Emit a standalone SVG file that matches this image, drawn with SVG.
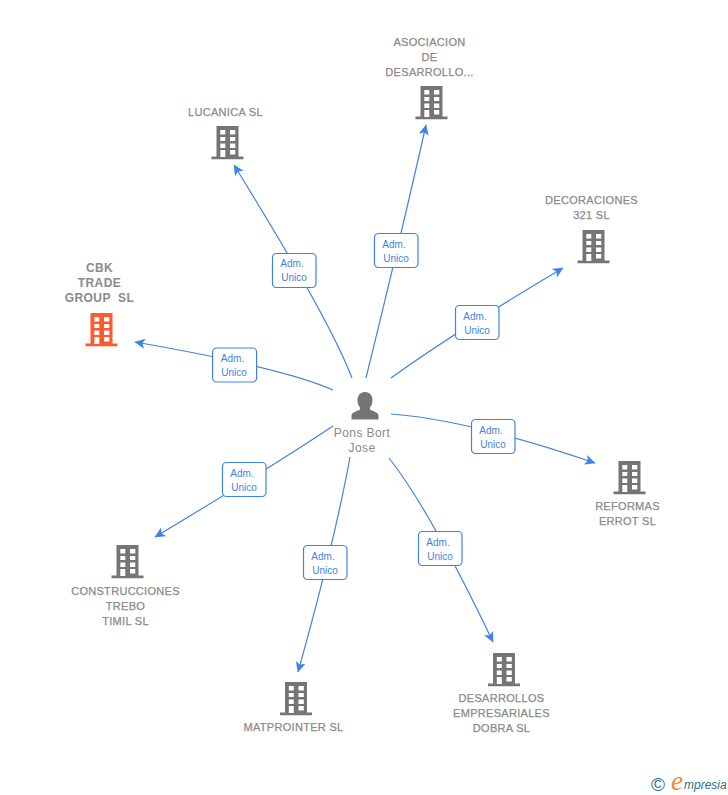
<svg xmlns="http://www.w3.org/2000/svg" width="728" height="795" viewBox="0 0 728 795">
<style>
text{font-family:"Liberation Sans",Arial,sans-serif}
.n{font-size:11px;fill:#8a8a8a;stroke:#8a8a8a;stroke-width:.25;text-anchor:middle;letter-spacing:.3px}
.c{font-size:12px;font-weight:bold;fill:#8a8a8a;text-anchor:middle;letter-spacing:.4px}
.p{font-size:12px;fill:#8a8a8a;text-anchor:middle;letter-spacing:.4px}
.e{fill:none;stroke:#3f83e4;stroke-width:1.2;marker-end:url(#a)}
.b{fill:#fff;stroke:#3f83e4;stroke-width:1.2}
.l{font-size:10px;fill:#3f83e4;text-anchor:middle}
</style>
<defs>
<marker id="a" markerUnits="userSpaceOnUse" markerWidth="12" markerHeight="12" refX="10" refY="5" orient="auto"><path d="M0 0L10.500 5L0 10L2.500 5Z" fill="#3f83e4"/></marker>
<symbol id="bld" overflow="visible"><path fill-rule="evenodd" d="M-11 0H11V30.500H16V33.200H-16V30.500H-11ZM-7.200 4V8.500H-2.200V4ZM2.500 4V8.500H7.800V4ZM-7.200 11V15H-2.200V11ZM2.500 11V15H7.800V11ZM-7.200 17.500V22H-2.200V17.500ZM2.500 17.500V22H7.800V17.500ZM-7.200 24V31H-2.200V24ZM2.500 24V28.500H7.800V24Z"/></symbol>
</defs>
<g id="connectors">
<path class="e" d="M333 390Q284 368 135 342"/>
<path class="e" d="M352 378Q330 320 234 165"/>
<path class="e" d="M366 378Q400 240 426 125"/>
<path class="e" d="M391 378Q450 335 563 268"/>
<path class="e" d="M391 414Q470 420 595 463"/>
<path class="e" d="M389 458Q430 510 493 642"/>
<path class="e" d="M350 457Q335 540 298 672"/>
<path class="e" d="M333 426Q270 468 155 537"/>
</g>
<g id="edge-labels">
<rect class="b" x="212.600" y="348" width="44" height="34" rx="4"/><text class="l" x="232.500" y="362">Adm.</text><text class="l" x="234" y="376">Unico</text>
<rect class="b" x="272.500" y="253.500" width="43.500" height="34" rx="4"/><text class="l" x="292" y="267">Adm.</text><text class="l" x="294" y="281">Unico</text>
<rect class="b" x="374.500" y="233.500" width="43.500" height="34" rx="4"/><text class="l" x="394" y="248">Adm.</text><text class="l" x="396" y="262">Unico</text>
<rect class="b" x="455.500" y="305.500" width="43.500" height="34" rx="4"/><text class="l" x="475" y="320">Adm.</text><text class="l" x="477" y="334">Unico</text>
<rect class="b" x="471.500" y="419.500" width="43.500" height="34" rx="4"/><text class="l" x="491" y="434">Adm.</text><text class="l" x="493" y="448">Unico</text>
<rect class="b" x="418.500" y="531.500" width="43.500" height="34" rx="4"/><text class="l" x="438" y="546">Adm.</text><text class="l" x="440" y="560">Unico</text>
<rect class="b" x="303.500" y="545.500" width="43.500" height="34" rx="4"/><text class="l" x="323" y="560">Adm.</text><text class="l" x="325" y="574">Unico</text>
<rect class="b" x="222.500" y="462.500" width="43.500" height="34" rx="4"/><text class="l" x="242" y="477">Adm.</text><text class="l" x="244" y="491">Unico</text>
</g>
<g id="center"><path fill="#757575" d="M365 392C370 392 372.500 396 372.500 400C372.500 403 371.500 405.500 370 407.500V409.500C373 411.500 378 412 378.500 415.500V419.500H351.500V415.500C352 412 357 411.500 360 409.500V407.500C358.500 405.500 357.500 403 357.500 400C357.500 396 360 392 365 392Z"/><text class="p" x="362" y="437">Pons Bort</text><text class="p" x="362" y="452">Jose</text></g>
<g id="n-cbk"><text class="c" x="99.500" y="272">CBK</text><text class="c" x="99.500" y="287">TRADE</text><text class="c" x="99.500" y="302" xml:space="preserve">GROUP  SL</text><use href="#bld" x="101.500" y="313" fill="#ff5a2c"/></g>
<g id="n-lucanica"><text class="n" x="225.500" y="116">LUCANICA SL</text><use href="#bld" x="227.500" y="126" fill="#757575"/></g>
<g id="n-asociacion"><text class="n" x="429.500" y="46">ASOCIACION</text><text class="n" x="429.500" y="61">DE</text><text class="n" x="429.500" y="76">DESARROLLO...</text><use href="#bld" x="431.500" y="86" fill="#757575"/></g>
<g id="n-decoraciones"><text class="n" x="591.500" y="204">DECORACIONES</text><text class="n" x="591.500" y="219">321 SL</text><use href="#bld" x="593.500" y="230" fill="#757575"/></g>
<g id="n-reformas"><text class="n" x="627.500" y="510">REFORMAS</text><text class="n" x="627.500" y="525">ERROT SL</text><use href="#bld" x="629.500" y="461" fill="#757575"/></g>
<g id="n-desarrollos"><use href="#bld" x="504" y="653" fill="#757575"/><text class="n" x="501.500" y="702">DESARROLLOS</text><text class="n" x="501.500" y="717">EMPRESARIALES</text><text class="n" x="501.500" y="732">DOBRA SL</text></g>
<g id="n-matprointer"><use href="#bld" x="296" y="682" fill="#757575"/><text class="n" x="293.500" y="731">MATPROINTER SL</text></g>
<g id="n-construcciones"><use href="#bld" x="127.500" y="545" fill="#757575"/><text class="n" x="125.500" y="595">CONSTRUCCIONES</text><text class="n" x="125.500" y="610">TREBO</text><text class="n" x="125.500" y="625">TIMIL SL</text></g>
<g id="logo"><text x="658" y="791" font-size="19" fill="#2f6f86" text-anchor="middle">©</text><text x="671" y="790" font-size="27" font-style="italic" fill="#f08a2c" style="font-family:'Liberation Serif',serif">e</text><text x="684" y="789" font-size="12" font-style="italic" fill="#2f6f86">mpresia</text></g>
</svg>
